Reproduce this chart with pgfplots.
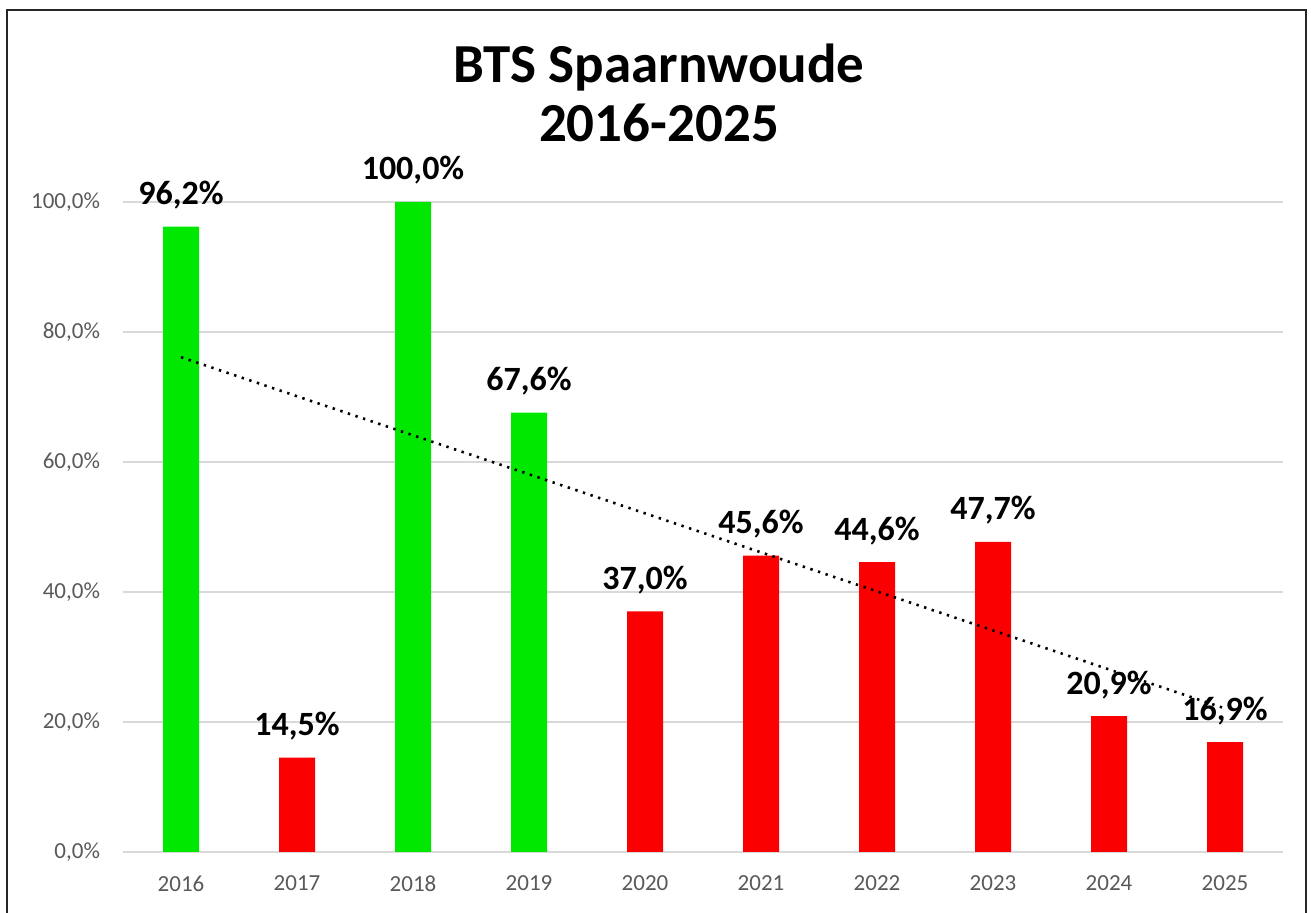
\documentclass[border=0pt]{standalone}
\usepackage{fontspec}
\setmainfont{Carlito}
\usepackage{pgfplots}
\usepackage{pgfplotstable}
\pgfplotsset{compat=1.18}

\definecolor{barGreen}{RGB}{0,232,0}
\definecolor{barRed}{RGB}{250,0,0}
\definecolor{tickGrey}{RGB}{89,89,89}
\definecolor{gridGrey}{RGB}{217,217,217}

% years: x = 0 (2016) ... 9 (2025)
\pgfplotstableread{
x pct
0 96.2
2 100.0
3 67.6
}\greenbars
\pgfplotstableread{
x pct
1 14.5
4 37.0
5 45.6
6 44.6
7 47.7
8 20.9
9 16.9
}\redbars
\pgfplotstableread{
x pct
0 96.2
1 14.5
2 100.0
3 67.6
4 37.0
5 45.6
6 44.6
7 47.7
8 20.9
9 16.9
}\allyears

\pgfplotsset{
  barlabel/.style={
    nodes near coords={\pgfmathprintnumber[fixed,fixed zerofill,precision=1,use comma]{\pgfplotspointmeta}\%},
    every node near coord/.append style={
      font=\bfseries\fontsize{17}{17}\selectfont, text=black,
      anchor=base, yshift=11pt, inner sep=0pt},
  },
}

\begin{document}
\begin{tikzpicture}
\path[use as bounding box] (-61.5pt,-30.5pt) rectangle (594pt,426pt);
\draw[line width=1pt, black!85] (-58pt,-40pt) -- (-58pt,421pt) -- (591.5pt,421pt) -- (591.5pt,-40pt);

\begin{axis}[
  scale only axis, width=580pt, height=325pt,
  xmin=-0.5, xmax=9.5, ymin=0, ymax=100,
  enlargelimits=false, clip=false,
  axis line style={draw=none},
  major tick length=0pt,
  ymajorgrids, grid style={gridGrey, line width=0.7pt},
  xtick={0,...,9},
  xticklabels={2016,2017,2018,2019,2020,2021,2022,2023,2024,2025},
  ytick={0,20,40,60,80,100},
  yticklabel={\pgfmathprintnumber[fixed,fixed zerofill,precision=1,use comma]{\tick}\%},
  /pgf/number format/assume math mode=true,
  ticklabel style={font=\fontsize{11.5}{11.5}\selectfont, text=tickGrey},
  yticklabel style={xshift=-8pt},
  xticklabel style={yshift=-8.5pt},
]
\addplot[ybar, bar width=18pt, bar shift=0pt, fill=barGreen, draw=none, barlabel]
  table[x=x, y=pct] {\greenbars};
\addplot[ybar, bar width=18pt, bar shift=0pt, fill=barRed, draw=none, barlabel]
  table[x=x, y=pct] {\redbars};
\addplot[black, line width=1.3pt, dash pattern=on 1.2pt off 2.8pt]
  table[x=x, y={create col/linear regression={y=pct}}] {\allyears};
\end{axis}

\node[font=\bfseries\fontsize{27.5}{27.5}\selectfont, anchor=base] at (268pt,384.5pt) {BTS Spaarnwoude};
\node[font=\bfseries\fontsize{27.5}{27.5}\selectfont, anchor=base] at (268pt,355pt) {2016-2025};
\end{tikzpicture}
\end{document}
